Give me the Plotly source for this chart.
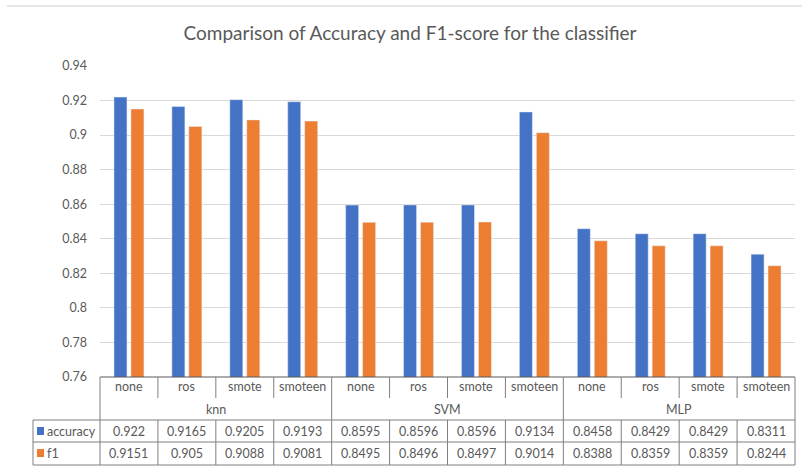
import plotly.graph_objects as go

# Classifier results per resampling strategy
groups = ["knn", "SVM", "MLP"]
methods = ["none", "ros", "smote", "smoteen"]
accuracy = [0.922, 0.9165, 0.9205, 0.9193,
            0.8595, 0.8596, 0.8596, 0.9134,
            0.8458, 0.8429, 0.8429, 0.8311]
f1 = [0.9151, 0.905, 0.9088, 0.9081,
      0.8495, 0.8496, 0.8497, 0.9014,
      0.8388, 0.8359, 0.8359, 0.8244]
y_ticks = [0.76, 0.78, 0.80, 0.82, 0.84, 0.86, 0.88, 0.90, 0.92, 0.94]
y_tick_text = ["0.76", "0.78", "0.8", "0.82", "0.84", "0.86", "0.88", "0.9", "0.92", "0.94"]

BLUE = "#4472C4"
ORANGE = "#ED7D31"
TEXT = "#595959"
FONT = "Lato, Carlito, Calibri, sans-serif"

W, H = 802, 470
L, R, T, B = 100, 7, 66, 93
plot_w = W - L - R
plot_h = H - T - B
n = len(accuracy)
xs = list(range(n))


def py(pix):
    """Pixel row (from top of figure) -> paper y."""
    return (H - B - pix) / plot_h


def px(pix):
    """Pixel column -> paper x."""
    return (pix - L) / plot_w


fig = go.Figure()
fig.add_trace(go.Bar(x=xs, y=accuracy, name="accuracy", marker_color=BLUE,
                     base=0, showlegend=False))
fig.add_trace(go.Bar(x=xs, y=f1, name="f1", marker_color=ORANGE,
                     base=0, showlegend=False))

shapes = []
annotations = []
LINE = dict(color="#7f7f7f", width=1)

# Data-table horizontal rules
shapes.append(dict(type="line", xref="paper", yref="paper", x0=0, x1=1,
                   y0=py(377), y1=py(377), line=dict(color="#595959", width=1)))
for yy in (420, 442, 465):
    shapes.append(dict(type="line", xref="paper", yref="paper", x0=px(33), x1=1,
                       y0=py(yy), y1=py(yy), line=LINE))

# Outer verticals
shapes.append(dict(type="line", xref="paper", yref="paper", x0=px(33), x1=px(33),
                   y0=py(420), y1=py(465), line=LINE))
for xx in (0, 1):
    shapes.append(dict(type="line", xref="paper", yref="paper", x0=xx, x1=xx,
                       y0=py(377), y1=py(465), line=LINE))

# Category boundaries inside the table
per = len(methods)
for i in range(1, n):
    xb = i - 0.5
    if i % per == 0:
        shapes.append(dict(type="line", xref="x", yref="paper", x0=xb, x1=xb,
                           y0=py(377), y1=py(465), line=LINE))
    else:
        shapes.append(dict(type="line", xref="x", yref="paper", x0=xb, x1=xb,
                           y0=py(377), y1=py(398), line=LINE))
        shapes.append(dict(type="line", xref="x", yref="paper", x0=xb, x1=xb,
                           y0=py(420), y1=py(465), line=LINE))

# Faint chart-area top edge
shapes.append(dict(type="line", xref="paper", yref="paper", x0=px(7), x1=px(W),
                   y0=py(6), y1=py(6), line=dict(color="#e6e6e6", width=2)))

cell_font = dict(family=FONT, size=12.5, color=TEXT)

# Method and group labels
for i in range(n):
    annotations.append(dict(x=i, y=py(387), xref="x", yref="paper", text=methods[i % per],
                            showarrow=False, font=cell_font, yanchor="middle"))
for g, name in enumerate(groups):
    annotations.append(dict(x=g * per + (per - 1) / 2, y=py(409), xref="x", yref="paper",
                            text=name, showarrow=False, font=cell_font, yanchor="middle"))

# Value rows
for i in range(n):
    annotations.append(dict(x=i, y=py(431), xref="x", yref="paper", text=str(accuracy[i]),
                            showarrow=False, font=cell_font, yanchor="middle"))
    annotations.append(dict(x=i, y=py(453), xref="x", yref="paper", text=str(f1[i]),
                            showarrow=False, font=cell_font, yanchor="middle"))

# Legend keys in the table
for label, color, yc in (("accuracy", BLUE, 431), ("f1", ORANGE, 453)):
    shapes.append(dict(type="rect", xref="paper", yref="paper", x0=px(37), x1=px(44),
                       y0=py(yc + 4), y1=py(yc - 4), fillcolor=color, line=dict(width=0)))
    annotations.append(dict(x=px(45), y=py(yc), xref="paper", yref="paper", text=label,
                            showarrow=False, font=cell_font, xanchor="left", yanchor="middle"))

fig.update_layout(
    width=W, height=H,
    margin=dict(l=L, r=R, t=T, b=B),
    paper_bgcolor="white", plot_bgcolor="white",
    barmode="group", bargap=0.414, bargroupgap=0.235,
    title=dict(text="Comparison of Accuracy and F1-score for the classifier",
               x=410 / W, xanchor="center", y=1 - 33 / H, yanchor="middle",
               font=dict(family=FONT, size=19, color=TEXT)),
    xaxis=dict(range=[-0.5, n - 0.5], showticklabels=False, showgrid=False,
               zeroline=False, showline=False, ticks=""),
    yaxis=dict(range=[0.76, 0.94], tickvals=y_ticks, ticktext=y_tick_text,
               showgrid=True, gridcolor="#d9d9d9", gridwidth=1, zeroline=False,
               showline=False, ticks="", ticklabelstandoff=12,
               tickfont=dict(family=FONT, size=12.5, color=TEXT)),
    shapes=shapes, annotations=annotations,
    font=dict(family=FONT, color=TEXT),
)

fig.write_html("out.html")
